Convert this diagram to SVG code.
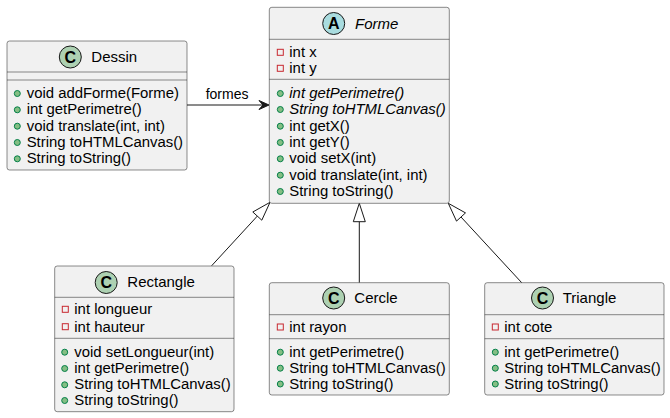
<svg xmlns="http://www.w3.org/2000/svg" width="670" height="418" viewBox="0 0 670 418">
<style>
  .box { fill: #F1F1F1; stroke: #181818; stroke-width: 0.5; }
  .sep { stroke: #181818; stroke-width: 0.5; }
  .t { font-family: "Liberation Sans", Arial, sans-serif; font-size: 14.9px; fill: #000; }
  .title { font-family: "Liberation Sans", Arial, sans-serif; font-size: 15px; fill: #000; }
  .it { font-style: italic; }
  .pub { fill: #84BE84; stroke: #038048; stroke-width: 1; }
  .priv { fill: none; stroke: #C82930; stroke-width: 1; }
  .cc { fill: #ADD1B2; stroke: #181818; stroke-width: 1; }
  .ca { fill: #A9DCDF; stroke: #181818; stroke-width: 1; }
  .glyph { font-family: "Liberation Sans", Arial, sans-serif; font-size: 16px; font-weight: bold; fill: #000; text-anchor: middle; }
  .edge { stroke: #181818; stroke-width: 1; fill: none; }
  .hollow { fill: #FFFFFF; stroke: #181818; stroke-width: 1; }
  .lbl { font-family: "Liberation Sans", Arial, sans-serif; font-size: 14px; fill: #000; }
</style>
<rect width="670" height="418" fill="#FFFFFF"/>

<g id="connectors">
  <line class="edge" x1="187" y1="105" x2="266" y2="105"/>
  <polygon points="269,105 259,100.5 263,105 259,109.5" fill="#181818" stroke="#181818" stroke-width="1"/>
  <text class="lbl" x="205.7" y="98.5">formes</text>

  <line class="edge" x1="211.7" y1="265.7" x2="257.3" y2="216.1"/>
  <polygon class="hollow" points="270,202.3 261.8,220.2 252.8,212"/>

  <line class="edge" x1="359.3" y1="282.7" x2="359.3" y2="221.7"/>
  <polygon class="hollow" points="359.3,203.3 365.3,221.7 353.3,221.7"/>

  <line class="edge" x1="521.7" y1="282.7" x2="461" y2="217"/>
  <polygon class="hollow" points="448.3,203.3 465.5,212.9 456.5,221.1"/>
</g>

<g id="Dessin">
  <rect class="box" x="7" y="41" width="180" height="129" rx="2.5"/>
  <circle class="cc" cx="70.3" cy="57" r="11"/>
  <text class="glyph" x="70.3" y="62.8">C</text>
  <text class="title" x="91.3" y="61.5">Dessin</text>
  <line class="sep" x1="7" y1="72" x2="187" y2="72"/>
  <line class="sep" x1="7" y1="80" x2="187" y2="80"/>
  <circle class="pub" cx="17.3" cy="93.5" r="3"/>
  <text class="t" x="26.7" y="98">void addForme(Forme)</text>
  <circle class="pub" cx="17.3" cy="109.8" r="3"/>
  <text class="t" x="26.7" y="114.3">int getPerimetre()</text>
  <circle class="pub" cx="17.3" cy="126.2" r="3"/>
  <text class="t" x="26.7" y="130.7">void translate(int, int)</text>
  <circle class="pub" cx="17.3" cy="142.5" r="3"/>
  <text class="t" x="26.7" y="147">String toHTMLCanvas()</text>
  <circle class="pub" cx="17.3" cy="158.8" r="3"/>
  <text class="t" x="26.7" y="163.3">String toString()</text>
</g>

<g id="Forme">
  <rect class="box" x="269.3" y="7.3" width="180" height="196" rx="2.5"/>
  <circle class="ca" cx="333.7" cy="23.5" r="11"/>
  <text class="glyph" x="333.7" y="29.3">A</text>
  <text class="title it" x="355" y="28.5">Forme</text>
  <line class="sep" x1="269.3" y1="39.3" x2="449.3" y2="39.3"/>
  <rect class="priv" x="277.3" y="49.3" width="6" height="6"/>
  <text class="t" x="289.3" y="57.3">int x</text>
  <rect class="priv" x="277.3" y="65.3" width="6" height="6"/>
  <text class="t" x="289.3" y="73.3">int y</text>
  <line class="sep" x1="269.3" y1="79.3" x2="449.3" y2="79.3"/>
  <circle class="pub" cx="280.3" cy="93.5" r="3"/>
  <text class="t it" x="289.3" y="98">int getPerimetre()</text>
  <circle class="pub" cx="280.3" cy="109.5" r="3"/>
  <text class="t it" x="289.3" y="114">String toHTMLCanvas()</text>
  <circle class="pub" cx="280.3" cy="126.2" r="3"/>
  <text class="t" x="289.3" y="130.7">int getX()</text>
  <circle class="pub" cx="280.3" cy="142.5" r="3"/>
  <text class="t" x="289.3" y="147">int getY()</text>
  <circle class="pub" cx="280.3" cy="158.8" r="3"/>
  <text class="t" x="289.3" y="163.3">void setX(int)</text>
  <circle class="pub" cx="280.3" cy="175.2" r="3"/>
  <text class="t" x="289.3" y="179.7">void translate(int, int)</text>
  <circle class="pub" cx="280.3" cy="191.5" r="3"/>
  <text class="t" x="289.3" y="196">String toString()</text>
</g>

<g id="Rectangle">
  <rect class="box" x="54.7" y="266" width="179.3" height="145.7" rx="2.5"/>
  <circle class="cc" cx="106.2" cy="282.5" r="11"/>
  <text class="glyph" x="106.2" y="288.3">C</text>
  <text class="title" x="127.3" y="287">Rectangle</text>
  <line class="sep" x1="54.7" y1="297.3" x2="234" y2="297.3"/>
  <rect class="priv" x="62.3" y="306.3" width="6" height="6"/>
  <text class="t" x="74.3" y="314.3">int longueur</text>
  <rect class="priv" x="62.3" y="323.7" width="6" height="6"/>
  <text class="t" x="74.3" y="331.5">int hauteur</text>
  <line class="sep" x1="54.7" y1="338.3" x2="234" y2="338.3"/>
  <circle class="pub" cx="64.7" cy="352.2" r="3"/>
  <text class="t" x="74.3" y="356.7">void setLongueur(int)</text>
  <circle class="pub" cx="64.7" cy="368.5" r="3"/>
  <text class="t" x="74.3" y="373">int getPerimetre()</text>
  <circle class="pub" cx="64.7" cy="384.8" r="3"/>
  <text class="t" x="74.3" y="389.3">String toHTMLCanvas()</text>
  <circle class="pub" cx="64.7" cy="400.5" r="3"/>
  <text class="t" x="74.3" y="405">String toString()</text>
</g>

<g id="Cercle">
  <rect class="box" x="269.3" y="282.7" width="180" height="112.3" rx="2.5"/>
  <circle class="cc" cx="333.7" cy="298" r="11"/>
  <text class="glyph" x="333.7" y="303.8">C</text>
  <text class="title" x="354.3" y="303">Cercle</text>
  <line class="sep" x1="269.3" y1="314.7" x2="449.3" y2="314.7"/>
  <rect class="priv" x="277.3" y="324" width="6" height="6"/>
  <text class="t" x="289.3" y="332">int rayon</text>
  <line class="sep" x1="269.3" y1="338.7" x2="449.3" y2="338.7"/>
  <circle class="pub" cx="280.3" cy="352.2" r="3"/>
  <text class="t" x="289.3" y="356.7">int getPerimetre()</text>
  <circle class="pub" cx="280.3" cy="368.2" r="3"/>
  <text class="t" x="289.3" y="372.7">String toHTMLCanvas()</text>
  <circle class="pub" cx="280.3" cy="384" r="3"/>
  <text class="t" x="289.3" y="388.5">String toString()</text>
</g>

<g id="Triangle">
  <rect class="box" x="484.7" y="282.7" width="179.3" height="112.3" rx="2.5"/>
  <circle class="cc" cx="542.5" cy="298" r="11"/>
  <text class="glyph" x="542.5" y="303.8">C</text>
  <text class="title" x="562.7" y="303">Triangle</text>
  <line class="sep" x1="484.7" y1="314.7" x2="664" y2="314.7"/>
  <rect class="priv" x="492.3" y="324" width="6" height="6"/>
  <text class="t" x="504.3" y="332">int cote</text>
  <line class="sep" x1="484.7" y1="338.7" x2="664" y2="338.7"/>
  <circle class="pub" cx="495.3" cy="352.2" r="3"/>
  <text class="t" x="504.3" y="356.7">int getPerimetre()</text>
  <circle class="pub" cx="495.3" cy="368.2" r="3"/>
  <text class="t" x="504.3" y="372.7">String toHTMLCanvas()</text>
  <circle class="pub" cx="495.3" cy="384" r="3"/>
  <text class="t" x="504.3" y="388.5">String toString()</text>
</g>
</svg>
